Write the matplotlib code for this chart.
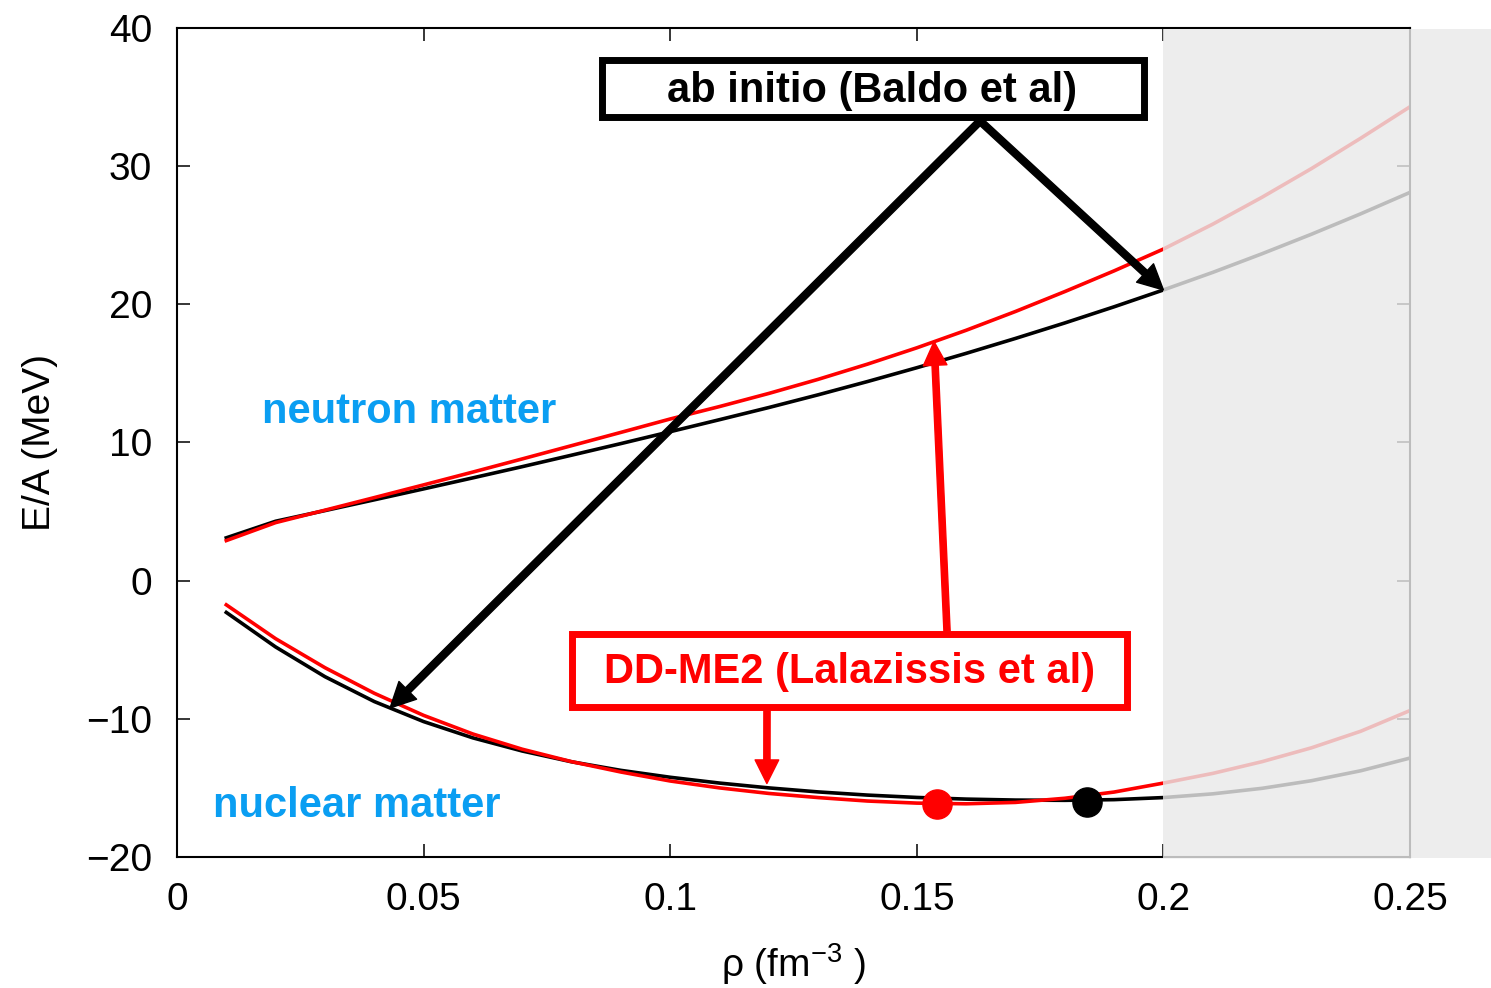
import numpy as np
import matplotlib
matplotlib.use("Agg")
import matplotlib.pyplot as plt
from matplotlib.patches import Rectangle

# density (fm^-3)
rho = [0.01, 0.02, 0.03, 0.04, 0.05, 0.06, 0.07, 0.08, 0.09, 0.10,
       0.11, 0.12, 0.13, 0.14, 0.15, 0.16, 0.17, 0.18, 0.19, 0.20,
       0.21, 0.22, 0.23, 0.24, 0.25]

# E/A (MeV), ab initio (Baldo et al)
neutron_ab = [3.1, 4.3, 5.07, 5.85, 6.64, 7.44, 8.25, 9.08, 9.92, 10.78,
              11.65, 12.53, 13.45, 14.41, 15.41, 16.45, 17.53, 18.65, 19.82, 21.04,
              22.31, 23.66, 25.07, 26.55, 28.1]
nuclear_ab = [-2.3, -4.8, -6.95, -8.75, -10.2, -11.38, -12.33, -13.11, -13.73, -14.23,
              -14.65, -15.0, -15.29, -15.52, -15.69, -15.81, -15.88, -15.9, -15.85, -15.7,
              -15.43, -15.03, -14.48, -13.76, -12.84]

# E/A (MeV), DD-ME2 (Lalazissis et al)
neutron_dd = [2.9, 4.2, 5.1, 6.01, 6.93, 7.86, 8.81, 9.77, 10.73, 11.7,
              12.6, 13.55, 14.57, 15.67, 16.85, 18.12, 19.48, 20.92, 22.42, 24.0,
              25.8, 27.75, 29.82, 32.02, 34.3]
nuclear_dd = [-1.75, -4.2, -6.3, -8.15, -9.75, -11.1, -12.2, -13.1, -13.85, -14.5,
              -15.0, -15.4, -15.7, -15.95, -16.1, -16.15, -16.05, -15.75, -15.3, -14.65,
              -13.95, -13.1, -12.1, -10.9, -9.4]

# saturation points (DD-ME2, ab initio)
sat_rho = [0.154, 0.1845]
sat_e = [-16.15, -16.0]

xticks = [0, 0.05, 0.1, 0.15, 0.2, 0.25]
xticklabels = ["0", "0.05", "0.1", "0.15", "0.2", "0.25"]
yticks = [-20, -10, 0, 10, 20, 30, 40]

plt.rcParams["font.family"] = "Liberation Sans"
plt.rcParams["mathtext.fontset"] = "custom"
plt.rcParams["mathtext.rm"] = "Liberation Sans"
plt.rcParams["mathtext.it"] = "Liberation Sans:italic"
plt.rcParams["mathtext.bf"] = "Liberation Sans:bold"

fig = plt.figure(figsize=(14.91, 9.88), dpi=100)
ax = fig.add_axes([0.1187, 0.1326, 0.8270, 0.8391])

# curves
lw = 2.6
ax.plot(rho, neutron_ab, color="black", lw=lw)
ax.plot(rho, nuclear_ab, color="black", lw=lw)
ax.plot(rho, neutron_dd, color="#ff0000", lw=lw)
ax.plot(rho, nuclear_dd, color="#ff0000", lw=lw)

# saturation points
ax.plot(sat_rho[0], sat_e[0], "o", color="#ff0000", ms=21, zorder=4)
ax.plot(sat_rho[1], sat_e[1], "o", color="black", ms=21, zorder=4)

ax.set_xlim(0, 0.25)
ax.set_ylim(-20, 40)
ax.set_xticks(xticks)
ax.set_xticklabels(xticklabels)
ax.set_yticks(yticks)
ax.tick_params(direction="in", length=9.5, width=1.1, top=True, right=True,
               labelsize=28, pad=18)
for sp in ax.spines.values():
    sp.set_linewidth(1.5)

ax.set_xlabel("ρ (fm$^{-3}$ )", fontsize=28, labelpad=17)
ax.set_ylabel("E/A (MeV)", fontsize=28, labelpad=20)

# shaded region beyond rho = 0.2 (semi-transparent, fades what lies below)
shade = Rectangle((0.2, -20.1), 0.0665, 60.0, facecolor="#e9e9e9",
                  edgecolor="none", alpha=0.81, clip_on=False, zorder=2.6)
ax.add_patch(shade)

# region labels
blue = "#0a9ef2"
ax.text(0.0172, 12.2, "neutron matter", color=blue, fontsize=30,
        fontweight="bold", va="center", ha="left")
ax.text(0.0073, -16.3, "nuclear matter", color=blue, fontsize=30,
        fontweight="bold", va="center", ha="left")

# ab initio box + arrows
ax.add_patch(Rectangle((0.3443, 0.8920), 0.4396, 0.0688, transform=ax.transAxes,
                       facecolor="white", edgecolor="black", lw=5, zorder=5))
ax.text(0.5637, 0.924, "ab initio (Baldo et al)", transform=ax.transAxes,
        fontsize=30, fontweight="bold", ha="center", va="center", zorder=6)

black_arrow = dict(width=5, headwidth=18, headlength=18, color="black")
tip1 = 0.0432
ax.annotate("", xy=(tip1, np.interp(tip1, rho, nuclear_ab)), xycoords="data",
            xytext=(0.6513, 0.8878), textcoords="axes fraction",
            arrowprops=black_arrow, zorder=5)
tip2 = 0.2
ax.annotate("", xy=(tip2, np.interp(tip2, rho, neutron_ab)), xycoords="data",
            xytext=(0.6513, 0.8878), textcoords="axes fraction",
            arrowprops=black_arrow, zorder=5)

# DD-ME2 box + arrows
ax.add_patch(Rectangle((0.3200, 0.1809), 0.4508, 0.0875, transform=ax.transAxes,
                       facecolor="white", edgecolor="#ff0000", lw=5, zorder=5))
ax.text(0.5458, 0.2232, "DD-ME2 (Lalazissis et al)", transform=ax.transAxes,
        color="#ff0000", fontsize=30, fontweight="bold", ha="center",
        va="center", zorder=6)

red_arrow = dict(width=4.5, headwidth=17, headlength=17, color="#ff0000")
tip3 = 0.1535
ax.annotate("", xy=(tip3, np.interp(tip3, rho, neutron_dd)), xycoords="data",
            xytext=(0.6245, 0.2726), textcoords="axes fraction",
            arrowprops=red_arrow, zorder=4)
tip4 = 0.1196
ax.annotate("", xy=(tip4, np.interp(tip4, rho, nuclear_dd) + 0.7), xycoords="data",
            xytext=(0.4785, 0.1761), textcoords="axes fraction",
            arrowprops=red_arrow, zorder=4)

fig.savefig("out.png", dpi=100)
